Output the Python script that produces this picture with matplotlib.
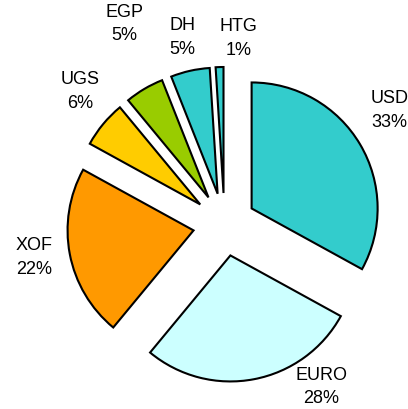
import numpy as np
import matplotlib
matplotlib.use("Agg")
import matplotlib.pyplot as plt

# currency shares (%)
currencies = ["USD", "EURO", "XOF", "UGS", "EGP", "DH", "HTG"]
shares = [33, 28, 22, 6, 5, 5, 1]
colors = ["#33CCCC", "#CCFFFF", "#FF9900", "#FFCC00", "#99CC00", "#33CCCC", "#33CCCC"]

# label placement tweaks (radius in pie radii, angle shift in degrees)
label_r = [1.59, 1.50, 1.53, 1.56, 1.78, 1.52, 1.48]
label_shift = [4, 20, -1, -3, -4, 0, -6]

plt.rcParams['font.family'] = ['Liberation Sans', 'DejaVu Sans']

fig = plt.figure(figsize=(4.08, 4.09), dpi=100)
ax = fig.add_axes([0, 0, 1, 1])

R = 126.0
cx, cy = 224.5, 409 - 224.5
wedges, _ = ax.pie(shares, colors=colors, startangle=90, counterclock=False,
                   explode=[0.25] * len(shares),
                   wedgeprops=dict(edgecolor="black", linewidth=1.5))

total = float(sum(shares))
start = 90.0
for i, (name, v) in enumerate(zip(currencies, shares)):
    span = 360.0 * v / total
    mid = np.deg2rad(start - span / 2 + label_shift[i])
    start -= span
    ax.text(label_r[i] * np.cos(mid), label_r[i] * np.sin(mid),
            "%s\n%d%%" % (name, round(v)), ha="center", va="center",
            fontsize=13, linespacing=1.5, color="black")

ax.set_xlim(-cx / R, (408 - cx) / R)
ax.set_ylim(-cy / R, (409 - cy) / R)
ax.set_aspect("equal")
ax.axis("off")

fig.savefig("out.png", dpi=100)
